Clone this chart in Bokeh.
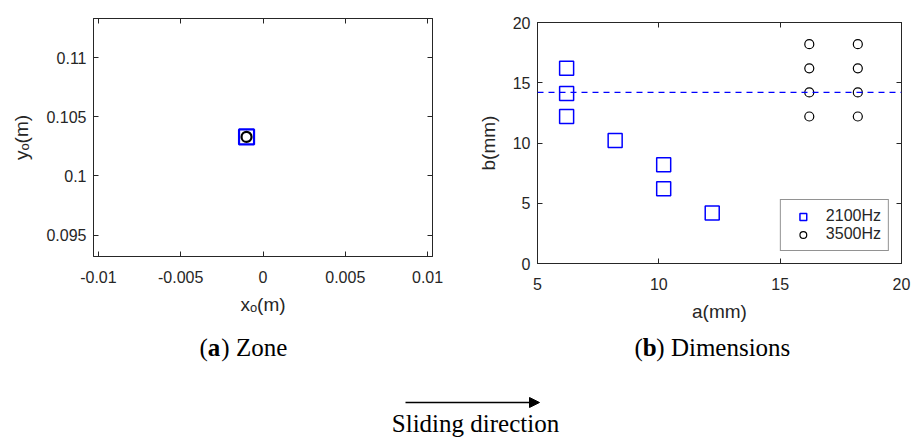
from bokeh.plotting import figure
from bokeh.models import (Range1d, LinearAxis, FixedTicker, CustomJSTickFormatter,
                          Span, Legend, LegendItem, Arrow, NormalHead, Spacer)
from bokeh.layouts import column, row
from bokeh.core.properties import value
from bokeh.embed import file_html
from bokeh.resources import INLINE

# ---------------- data ----------------
zone_x_2100 = [-0.001]
zone_y_2100 = [0.1033]
zone_x_3500 = [-0.001]
zone_y_3500 = [0.1033]

a_2100 = [6.2, 6.2, 6.2, 8.2, 10.2, 10.2, 12.2]
b_2100 = [16.2, 14.1, 12.2, 10.2, 8.2, 6.2, 4.2]
a_3500 = [16.2, 16.2, 16.2, 16.2, 18.2, 18.2, 18.2, 18.2]
b_3500 = [18.2, 16.2, 14.2, 12.2, 18.2, 16.2, 14.2, 12.2]
b_ref = 14.2

zone_xticks = [-0.01, -0.005, 0, 0.005, 0.01]
zone_yticks = [0.095, 0.1, 0.105, 0.11]
dim_xticks = [5, 10, 15, 20]
dim_yticks = [0, 5, 10, 15, 20]

legend_labels = ["2100Hz", "3500Hz"]
caption_letters = ["a", "b"]
caption_words = ["Zone", "Dimensions"]
bottom_text = "Sliding direction"

AX = "#262626"
SANS = "Liberation Sans"
SERIF = "Liberation Serif"

fmt = CustomJSTickFormatter(code="return String(parseFloat(tick.toFixed(4)))")
blank = CustomJSTickFormatter(code="return ''")


def style_axes(p, xticks, yticks, xlabel, ylabel, formatter=None):
    for ax in p.xaxis + p.yaxis:
        ax.ticker = FixedTicker(ticks=xticks if ax in p.xaxis else yticks)
        ax.major_tick_in = 5
        ax.major_tick_out = 0
        ax.minor_tick_line_color = None
        ax.axis_line_color = AX
        ax.major_tick_line_color = AX
        ax.major_label_text_color = AX
        ax.major_label_text_font = SANS
        ax.major_label_text_font_size = "16px"
        ax.axis_label_text_font = SANS
        ax.axis_label_text_font_size = "19px"
        ax.axis_label_text_font_style = "normal"
        ax.axis_label_text_color = AX
        if formatter is not None:
            ax.formatter = formatter
    p.xaxis.axis_label = xlabel
    p.yaxis.axis_label = ylabel
    p.xaxis.major_label_standoff = 14
    p.yaxis.major_label_standoff = 7
    p.xaxis.axis_label_standoff = 8
    p.yaxis.axis_label_standoff = 11
    top = LinearAxis(ticker=FixedTicker(ticks=xticks), formatter=blank,
                     major_tick_in=5, major_tick_out=0, minor_tick_line_color=None,
                     axis_line_color=AX, major_tick_line_color=AX,
                     major_label_text_font_size="0px", major_label_standoff=0)
    right = LinearAxis(ticker=FixedTicker(ticks=yticks), formatter=blank,
                       major_tick_in=5, major_tick_out=0, minor_tick_line_color=None,
                       axis_line_color=AX, major_tick_line_color=AX,
                       major_label_text_font_size="0px", major_label_standoff=0)
    p.add_layout(top, "above")
    p.add_layout(right, "right")
    p.grid.visible = False
    p.outline_line_color = AX


# ---------------- (a) Zone ----------------
p1 = figure(width=468, height=335, output_backend="svg", toolbar_location=None,
            x_range=Range1d(-0.0103, 0.0103), y_range=Range1d(0.0932, 0.1133),
            min_border_left=93, min_border_right=36, min_border_top=18, min_border_bottom=79)
style_axes(p1, zone_xticks, zone_yticks, "x\u2092(m)", "y\u2092(m)", fmt)
p1.scatter(zone_x_2100, zone_y_2100, marker="square", size=15, line_color="#0000ff",
           line_width=2.2, fill_color="white")
p1.scatter(zone_x_3500, zone_y_3500, marker="circle", size=10, line_color="black",
           line_width=2.2, fill_color="white")

# ---------------- (b) Dimensions ----------------
p2 = figure(width=443, height=331, output_backend="svg", toolbar_location=None,
            x_range=Range1d(5, 20), y_range=Range1d(0, 20),
            min_border_left=69, min_border_right=10, min_border_top=18, min_border_bottom=72)
style_axes(p2, dim_xticks, dim_yticks, "a(mm)", "b(mm)")
p2.add_layout(Span(location=b_ref, dimension="width", line_color="#0000ff",
                   line_dash="6 5", line_width=1.2))
r_sq = p2.scatter(a_2100, b_2100, marker="square", size=14, line_color="#0000ff",
                  line_width=1.5, fill_color=None)
r_ci = p2.scatter(a_3500, b_3500, marker="circle", size=9, line_color="black",
                  line_width=1.2, fill_color=None)
leg = Legend(items=[LegendItem(label=legend_labels[0], renderers=[r_sq]),
                    LegendItem(label=legend_labels[1], renderers=[r_ci])],
             location="bottom_right", margin=12, padding=7, spacing=0,
             glyph_width=30, glyph_height=17, label_height=17, label_standoff=8,
             label_text_font=SANS, label_text_font_size="16px", label_text_color=AX,
             border_line_color=AX, border_line_width=1, background_fill_alpha=1)
p2.add_layout(leg)

# ---------------- captions ----------------
p3 = figure(width=911, height=102, output_backend="svg", toolbar_location=None,
            x_range=Range1d(0, 911), y_range=Range1d(102, 0),
            min_border_left=0, min_border_right=0, min_border_top=0, min_border_bottom=0)
p3.axis.visible = False
p3.grid.visible = False
p3.outline_line_color = None

FS = "25px"
def caption(x0, letter, word, y=12):
    p3.text([x0], [y], text=["("], text_font=value(SERIF), text_font_size=FS,
            text_baseline="middle", text_align="left", text_color="black")
    p3.text([x0 + 8.3], [y], text=[letter], text_font=value(SERIF), text_font_size=FS,
            text_font_style="bold", text_baseline="middle", text_align="left", text_color="black")
    p3.text([x0 + 8.3 + 13.5], [y], text=[") " + word], text_font=value(SERIF), text_font_size=FS,
            text_baseline="middle", text_align="left", text_color="black")

caption(199, caption_letters[0], caption_words[0])
caption(634, caption_letters[1], caption_words[1])

p3.add_layout(Arrow(end=NormalHead(size=10, fill_color="black", line_color="black"),
                    x_start=405, x_end=539, y_start=67, y_end=67,
                    line_color="black", line_width=1.3))
p3.text([475], [88], text=[bottom_text], text_font=value(SERIF), text_font_size=FS,
        text_baseline="middle", text_align="center", text_color="black")

layout = column(row(p1, column(Spacer(width=443, height=4), p2, spacing=0), spacing=0), p3)
open("out.html", "w").write(file_html(layout, INLINE))
